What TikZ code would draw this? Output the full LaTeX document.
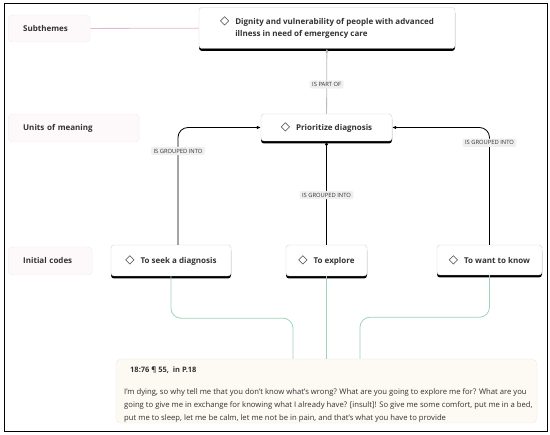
\documentclass[tikz,border=0pt]{standalone}
\usepackage{fontspec}
\setmainfont{Open Sans}
\newfontfamily\symfont{DejaVu Sans}
\usetikzlibrary{shadows,arrows.meta}
\tikzset{>={Latex[length=4pt,width=3.6pt]}}

\definecolor{textgray}{HTML}{333333}
\definecolor{nodegray}{HTML}{D2D2D2}
\definecolor{levelfill}{HTML}{FDF8F9}
\definecolor{levelborder}{HTML}{F2ECEE}
\definecolor{pinkline}{HTML}{E4B6CF}
\definecolor{greenline}{HTML}{9ED3B6}
\definecolor{quotefill}{HTML}{FDF9F3}
\definecolor{quoteborder}{HTML}{F2E8D8}
\definecolor{linkgray}{HTML}{EFEFEF}
\definecolor{partgray}{HTML}{BBBBBB}

\newcommand{\codemark}{{\fontsize{12}{12}\symfont\char"25C7}\hspace{6pt}}

\begin{document}
\begin{tikzpicture}[x=1pt,y=-1pt,
codenode/.style={rectangle, rounded corners=3pt, draw=nodegray, fill=white, text=textgray, inner sep=0pt,
  font=\fontsize{8}{11.5}\selectfont\bfseries,
  drop shadow={shadow xshift=0pt, shadow yshift=-2.5pt, opacity=1, fill=black}},
levelnode/.style={rectangle, rounded corners=4pt, draw=levelborder, fill=levelfill, text=textgray, anchor=west,
  align=left, inner xsep=15pt, font=\fontsize{8}{10}\selectfont\bfseries},
linklabel/.style={rectangle, rounded corners=2pt, fill=linkgray, text=textgray, inner xsep=2.5pt, inner ysep=2pt,
  font=\fontsize{5.8}{6}\selectfont},
groupline/.style={->, line width=0.8pt, rounded corners=10pt},
codeline/.style={draw=greenline, line width=0.8pt, rounded corners=10pt},
]
\useasboundingbox (0,0) rectangle (550,435);
\draw[line width=0.8pt] (4,3) rectangle (547,431);

%Levels
\node[levelnode, text width=52pt, minimum height=27pt](Subthemes) at (8,28.5){Subthemes};
\node[levelnode, text width=101pt, minimum height=28pt](Units) at (8,128){Units of meaning};
\node[levelnode, text width=54pt, minimum height=28pt](Initial) at (8,261){Initial codes};

%Nodes
\node[codenode, minimum width=256pt, minimum height=41pt](Dignity) at (327,28)
  {\codemark\begin{tabular}[t]{@{}l@{}}Dignity and vulnerability of people with advanced\\ illness in need of emergency care\end{tabular}};
\node[codenode, minimum width=131pt, minimum height=27pt](Prioritize) at (326.5,127.5){\codemark Prioritize diagnosis};
\node[codenode, minimum width=120pt, minimum height=31pt](Seek) at (171,260.5){\codemark To seek a diagnosis};
\node[codenode, minimum width=81pt, minimum height=31pt](Explore) at (326.5,260.5){\codemark To explore};
\node[codenode, minimum width=105pt, minimum height=30pt](Want) at (489.5,260){\codemark To want to know};

%Quotation
\node[rectangle, rounded corners=5pt, draw=quoteborder, fill=quotefill, minimum width=421pt, minimum height=64pt](Quote) at (326.5,391){};
\node[anchor=west, text=textgray, inner sep=0pt, font=\fontsize{7.5}{9}\selectfont\bfseries](QuoteRef) at (130,370){18:76 ¶ 55,\ \ in P.18};
\node[anchor=north west, align=left, text=textgray, inner sep=0pt, font=\fontsize{7.7}{13}\selectfont](QuoteText) at (124,388)
  {I'm dying, so why tell me that you don't know what's wrong? What are you going to explore me for? What are you\\
   going to give me in exchange for knowing what I already have? [insult]! So give me some comfort, put me in a bed,\\
   put me to sleep, let me be calm, let me not be in pain, and that's what you have to provide};
\coordinate (QuoteLeft) at (293,359);
\coordinate (QuoteRight) at (360,359);

%Lines
\draw[pinkline, line width=0.8pt] (Subthemes) -- (Dignity);
\draw[->, partgray, line width=0.8pt] (Prioritize) -- node[linklabel, pos=0.45]{IS PART OF} (Dignity);
\draw[groupline] ([xshift=7pt]Seek.north) |- node[linklabel, pos=0.4]{IS GROUPED INTO} (Prioritize.west);
\draw[groupline] (Explore) -- node[linklabel, pos=0.48]{IS GROUPED INTO} (Prioritize);
\draw[groupline] (Want.north) |- node[linklabel, pos=0.435]{IS GROUPED INTO} (Prioritize.east);
\draw[codeline] (Seek.south) -- ++(0,42) -| (QuoteLeft);
\draw[codeline] (Explore) -- (Quote);
\draw[codeline] (Want.south) -- ++(0,42) -| (QuoteRight);
\end{tikzpicture}
\end{document}
